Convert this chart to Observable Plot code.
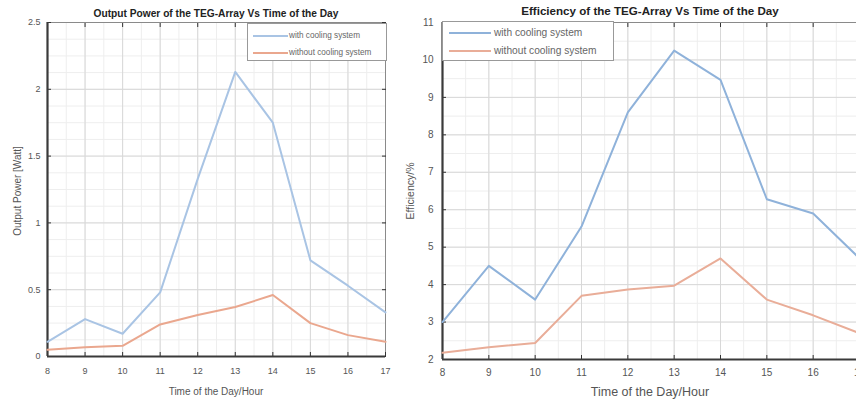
<!DOCTYPE html>
<html><head><meta charset="utf-8">
<script src="https://cdn.jsdelivr.net/npm/d3@7"></script>
<script src="https://cdn.jsdelivr.net/npm/@observablehq/plot@0.6"></script>
<style>
html,body{margin:0;padding:0;background:#fff;}
#wrap{position:relative;width:856px;height:404px;overflow:hidden;font-family:"Liberation Sans",Arial,sans-serif;background:#fff;}
#wrap svg{position:absolute;top:0;}
.t{position:absolute;white-space:nowrap;transform:translate(-50%,-50%);}
.title{font-weight:bold;color:#222;}
.lab{color:#555;}
.rot{transform:translate(-50%,-50%) rotate(-90deg);}
.legend{position:absolute;background:#fff;border:1px solid #999;box-sizing:border-box;}
.legend .row{position:absolute;white-space:nowrap;color:#666;}
.legend .sw{position:absolute;height:2px;}
</style></head><body><div id="wrap"></div>
<script>
const hours = [8, 9, 10, 11, 12, 13, 14, 15, 16, 17];
const powerWith = [0.11, 0.28, 0.17, 0.48, 1.33, 2.13, 1.75, 0.72, 0.53, 0.33];
const powerWithout = [0.05, 0.07, 0.08, 0.24, 0.31, 0.37, 0.46, 0.25, 0.16, 0.11];
const effWith = [3.0, 4.5, 3.6, 5.55, 8.6, 10.25, 9.47, 6.28, 5.9, 4.7];
const effWithout = [2.18, 2.33, 2.44, 3.7, 3.87, 3.97, 4.7, 3.6, 3.18, 2.7];
const seriesNames = ["with cooling system", "without cooling system"];
const xTicks = [8, 9, 10, 11, 12, 13, 14, 15, 16, 17];
const powerTicks = [0, 0.5, 1, 1.5, 2, 2.5];
const effTicks = [2, 3, 4, 5, 6, 7, 8, 9, 10, 11];
const titles = ["Output Power of the TEG-Array Vs Time of the Day", "Efficiency of the TEG-Array Vs Time of the Day"];
const xLabel = "Time of the Day/Hour";
const yLabels = ["Output Power [Watt]", "Efficiency/%"];

const wrap = document.getElementById("wrap");

function makePanel(o) {
  const rows = [];
  hours.forEach((h, i) => {
    rows.push({hour: h, value: o.withVals[i], series: seriesNames[0]});
    rows.push({hour: h, value: o.withoutVals[i], series: seriesNames[1]});
  });
  const x0 = xTicks[0], x1 = xTicks[xTicks.length - 1];
  const minorX = d3.range(x0, x1 + 1e-9, 0.5);
  const minorY = d3.range(o.yTicks[0], o.yTicks[o.yTicks.length - 1] + 1e-9, o.yMinor);
  const svg = Plot.plot({
    width: o.width, height: 404,
    marginLeft: o.ml, marginRight: o.mr, marginTop: 22, marginBottom: o.mb,
    style: {fontFamily: "'Liberation Sans', Arial, sans-serif", fontSize: o.fs + "px", color: "#555", background: "transparent", overflow: "visible"},
    x: {domain: [x0, x1], label: null},
    y: {domain: [o.yTicks[0], o.yTicks[o.yTicks.length - 1]], label: null},
    color: {domain: seriesNames, range: o.colors},
    marks: [
      Plot.gridX(minorX, {stroke: "#eeeeee", strokeOpacity: 1}),
      Plot.gridY(minorY, {stroke: "#eeeeee", strokeOpacity: 1}),
      Plot.gridX(xTicks, {stroke: "#d8d8d8", strokeOpacity: 1}),
      Plot.gridY(o.yTicks, {stroke: "#d8d8d8", strokeOpacity: 1}),
      Plot.frame({stroke: "#8a8a8a"}),
      Plot.axisX(xTicks, {anchor: "bottom", tickSize: 0, tickPadding: o.txPad, tickFormat: d => String(d)}),
      Plot.axisY(o.yTicks, {anchor: "left", tickSize: 0, tickPadding: o.tyPad, tickFormat: d => String(d)}),
      Plot.axisX(xTicks, {anchor: "bottom", tickSize: -4, text: null, stroke: "#333"}),
      Plot.axisX(xTicks, {anchor: "top", tickSize: -4, text: null, stroke: "#333"}),
      Plot.axisY(o.yTicks, {anchor: "left", tickSize: -4, text: null, stroke: "#333"}),
      Plot.axisY(o.yTicks, {anchor: "right", tickSize: -4, text: null, stroke: "#333"}),
      Plot.ruleY([o.yTicks[0]], {stroke: "#3a3a3a", strokeWidth: 2.2}),
      Plot.ruleX([x0], {stroke: "#3a3a3a", strokeWidth: 2.2}),
      Plot.line(rows, {x: "hour", y: "value", z: "series", stroke: "series", strokeWidth: 2})
    ]
  });
  svg.style.left = o.left + "px";
  wrap.appendChild(svg);
}

makePanel({withVals: powerWith, withoutVals: powerWithout, yTicks: powerTicks, yMinor: 0.125,
  width: 428, ml: 47, mr: 43, mb: 48, fs: 9, left: 0, txPad: 11, tyPad: 7,
  colors: ["#a9c4e4", "#eaa78e"]});
makePanel({withVals: effWith, withoutVals: effWithout, yTicks: effTicks, yMinor: 0.5,
  width: 473, ml: 47, mr: 9, mb: 45, fs: 10, left: 395, txPad: 9, tyPad: 9,
  colors: ["#8fb2da", "#e9ad98"]});

function addText(txt, cls, x, y, fs) {
  const d = document.createElement("div");
  d.className = "t " + cls;
  d.textContent = txt;
  d.style.left = x + "px"; d.style.top = y + "px"; d.style.fontSize = fs + "px";
  wrap.appendChild(d);
}
addText(titles[0], "title", 216, 13, 10.2);
addText(titles[1], "title", 650, 10, 11.6);
addText(xLabel, "lab", 216, 391, 10);
addText(xLabel, "lab", 650, 392, 12.5);
addText(yLabels[0], "lab rot", 17, 191, 10);
addText(yLabels[1], "lab rot", 410, 191, 10.5);

function addLegend(o) {
  const L = document.createElement("div");
  L.className = "legend";
  Object.assign(L.style, {left: o.x + "px", top: o.y + "px", width: o.w + "px", height: o.h + "px"});
  seriesNames.forEach((name, i) => {
    const sw = document.createElement("div");
    sw.className = "sw";
    Object.assign(sw.style, {left: o.sx + "px", width: o.sw + "px", top: (o.rows[i] - 1) + "px", background: o.colors[i]});
    L.appendChild(sw);
    const r = document.createElement("div");
    r.className = "row";
    r.textContent = name;
    Object.assign(r.style, {left: o.tx + "px", top: (o.rows[i] - o.fs * 0.6) + "px", fontSize: o.fs + "px"});
    L.appendChild(r);
  });
  wrap.appendChild(L);
}
addLegend({x: 247, y: 23, w: 140, h: 38, sx: 5, sw: 35, tx: 41, rows: [12, 29], fs: 8.2, colors: ["#a9c4e4", "#eaa78e"]});
addLegend({x: 442, y: 21, w: 172, h: 40, sx: 6, sw: 42, tx: 51, rows: [11, 29], fs: 10.2, colors: ["#8fb2da", "#e9ad98"]});
</script></body></html>
